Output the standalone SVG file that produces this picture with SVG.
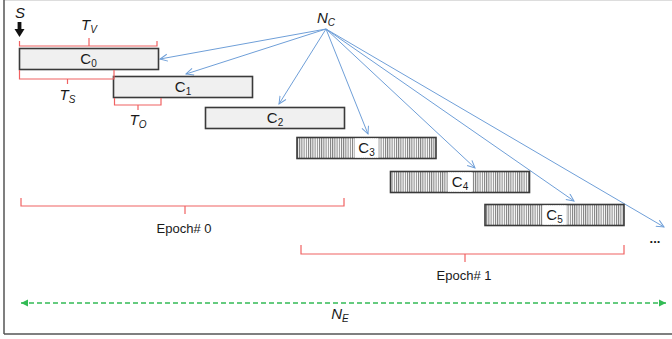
<svg xmlns="http://www.w3.org/2000/svg" width="672" height="339" viewBox="0 0 672 339">
<defs>
<pattern id="hatch" width="2.2" height="4" patternUnits="userSpaceOnUse">
<rect width="2.2" height="4" fill="#ffffff"/>
<rect x="0" width="1" height="4" fill="#7a7a7a"/>
</pattern>
<marker id="blueHead" markerUnits="userSpaceOnUse" markerWidth="10" markerHeight="10" refX="8" refY="4" orient="auto">
<path d="M0.5,0.5 L8,4 L0.5,7.5" fill="none" stroke="#6f9fd8" stroke-width="1"/>
</marker>
<marker id="greenHead" markerUnits="userSpaceOnUse" markerWidth="10" markerHeight="10" refX="7" refY="4" orient="auto-start-reverse">
<path d="M0,0.5 L7,4 L0,7.5 Z" fill="#33bb55"/>
</marker>
</defs>
<style>
.box{stroke:#3a3a3a;stroke-width:1.6;}
.plain{fill:#f0f0f0;}
.hatched{fill:url(#hatch);}
.lbl{font-family:"Liberation Sans",Arial,sans-serif;font-size:15px;fill:#1a1a1a;text-anchor:middle;}
.sub{font-size:10px;}
.tl{font-family:"Liberation Sans",Arial,sans-serif;font-size:15px;font-style:italic;fill:#1a1a1a;text-anchor:middle;}
.ep{font-family:"Liberation Sans",Arial,sans-serif;font-size:13px;fill:#1a1a1a;text-anchor:middle;}
.br{fill:none;stroke:#f06262;stroke-width:1.2;}
.conn{stroke:#6f9fd8;stroke-width:1;fill:none;marker-end:url(#blueHead);}
.ne{stroke:#33bb55;stroke-width:1.6;stroke-dasharray:5 3;fill:none;marker-start:url(#greenHead);marker-end:url(#greenHead);}
</style>
<rect x="0" y="0" width="672" height="339" fill="#ffffff"/>
<line x1="4" y1="0.5" x2="672" y2="0.5" stroke="#dddddd" stroke-width="1"/>
<line x1="4" y1="0" x2="4" y2="334" stroke="#555555" stroke-width="1.5"/>
<line x1="4" y1="334" x2="672" y2="334" stroke="#555555" stroke-width="1.5"/>

<g id="connectors">
<line class="conn" x1="326" y1="29" x2="160" y2="59"/>
<line class="conn" x1="326" y1="29" x2="186" y2="74"/>
<line class="conn" x1="326" y1="29" x2="279" y2="104"/>
<line class="conn" x1="326" y1="29" x2="368" y2="134"/>
<line class="conn" x1="326" y1="29" x2="475" y2="168"/>
<line class="conn" x1="326" y1="29" x2="574" y2="201"/>
<line class="conn" x1="326" y1="29" x2="664" y2="227"/>
<line class="ne" x1="21" y1="303" x2="666" y2="303"/>
</g>

<g id="S">
<text class="tl" x="20" y="18">S</text>
<path d="M17.6,22 L21.4,22 L21.4,29 L24.5,29 L19.5,37 L14.5,29 L17.6,29 Z" fill="#111111"/>
</g>

<g id="NC">
<text class="tl" x="326" y="23">N<tspan class="sub" dy="3">C</tspan></text>
</g>

<g id="C0">
<rect class="box plain" x="19.5" y="48.5" width="139" height="21"/>
<text class="lbl" x="88.5" y="64">C<tspan class="sub" dy="3">0</tspan></text>
</g>
<g id="C1">
<rect class="box plain" x="113.5" y="76.5" width="139" height="21"/>
<text class="lbl" x="183" y="92">C<tspan class="sub" dy="3">1</tspan></text>
</g>
<g id="C2">
<rect class="box plain" x="205.5" y="107.5" width="139" height="21"/>
<text class="lbl" x="275" y="123">C<tspan class="sub" dy="3">2</tspan></text>
</g>
<g id="C3">
<rect class="box hatched" x="297" y="137.5" width="139" height="21"/>
<rect x="354.5" y="138.3" width="24" height="19.4" fill="#ffffff"/>
<text class="lbl" x="366.5" y="153">C<tspan class="sub" dy="3">3</tspan></text>
</g>
<g id="C4">
<rect class="box hatched" x="390.5" y="171.5" width="139" height="21"/>
<rect x="448" y="172.3" width="24" height="19.4" fill="#ffffff"/>
<text class="lbl" x="460" y="187">C<tspan class="sub" dy="3">4</tspan></text>
</g>
<g id="C5">
<rect class="box hatched" x="485" y="204.5" width="139" height="21"/>
<rect x="542.5" y="205.3" width="24" height="19.4" fill="#ffffff"/>
<text class="lbl" x="554.5" y="220">C<tspan class="sub" dy="3">5</tspan></text>
</g>

<g id="TV">
<path class="br" d="M19.5,41 V46 H157 V41 M89,46 V38"/>
<text class="tl" x="89" y="30">T<tspan class="sub" dy="3">V</tspan></text>
</g>
<g id="TS">
<path class="br" d="M19.5,70 V79 H114 V70 M67.5,79 V84"/>
<text class="tl" x="67.5" y="100">T<tspan class="sub" dy="3">S</tspan></text>
</g>
<g id="TO">
<path class="br" d="M114.5,98 V105 H161 V98 M138,105 V110"/>
<text class="tl" x="138" y="125">T<tspan class="sub" dy="3">O</tspan></text>
</g>

<g id="epoch0">
<path class="br" d="M21,198 V206 H344 V198 M185,206 V214"/>
<text class="ep" x="184" y="233">Epoch# 0</text>
</g>
<g id="epoch1">
<path class="br" d="M301,245 V254 H624 V245 M465,254 V262"/>
<text class="ep" x="464" y="280">Epoch# 1</text>
</g>

<g id="dots">
<text class="ep" x="655" y="243" font-weight="bold">...</text>
</g>

<g id="NE">
<text class="tl" x="340" y="319">N<tspan class="sub" dy="3">E</tspan></text>
</g>
</svg>
